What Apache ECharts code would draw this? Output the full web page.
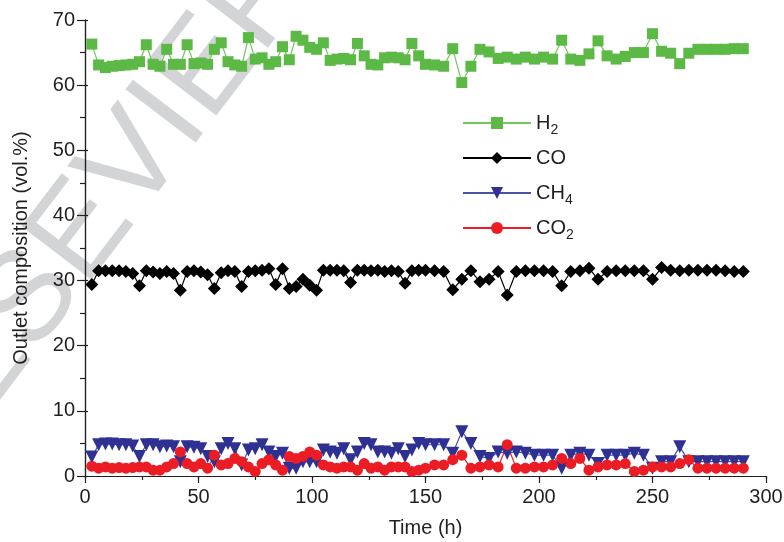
<!DOCTYPE html>
<html>
<head>
<meta charset="utf-8">
<script src="https://cdn.jsdelivr.net/npm/echarts@6/dist/echarts.min.js"></script>
<style>
  html, body { margin: 0; padding: 0; background: #fff; }
  #chart { width: 784px; height: 542px; }
</style>
</head>
<body>
<div id="chart"></div>
<script>
var chartDom = document.getElementById('chart');
var myChart = echarts.init(chartDom);

// sampling times (h)
var times = [3,6,9,12,15,18,21,24,27,30,33,36,39,42,45,48,51,54,57,60,
  63,66,69,72,75,78,81,84,87,90,93,96,99,102,105,108,111,114,117,120,
  123,126,129,132,135,138,141,144,147,150,154,158,162,166,170,174,178,182,186,190,
  194,198,202,206,210,214,218,222,226,230,234,238,242,246,250,254,258,262,266,270,
  274,278,282,286,290];

var h2 = [66.3,63.1,62.7,62.9,63.0,63.1,63.2,63.6,66.2,63.2,62.9,65.5,63.2,63.2,66.2,63.3,63.4,63.2,65.5,66.5,
  63.6,63.1,62.9,67.3,64.0,64.2,63.2,63.6,65.9,63.9,67.5,66.9,65.8,65.5,66.5,63.8,64.0,64.1,63.9,66.4,
  64.5,63.2,63.1,64.2,64.3,64.2,63.9,66.4,64.5,63.2,63.1,62.9,65.6,60.4,62.9,65.5,65.1,64.1,64.3,64.0,
  64.3,64.0,64.3,64.0,66.9,64.0,63.8,64.8,66.8,64.5,64.0,64.4,65.0,65.0,67.9,65.2,64.9,63.3,64.9,65.5,
  65.5,65.5,65.5,65.6,65.6];

var co = [29.4,31.5,31.5,31.5,31.5,31.4,31.1,29.2,31.5,31.3,31.1,31.4,31.1,28.5,31.4,31.5,31.3,30.9,28.8,31.2,
  31.5,31.4,29.1,31.4,31.5,31.6,31.8,29.4,31.8,28.8,29.1,30.2,29.3,28.5,31.6,31.6,31.6,31.5,29.7,31.6,
  31.6,31.5,31.6,31.4,31.5,31.4,29.6,31.5,31.6,31.6,31.5,31.4,28.6,30.2,31.5,29.8,30.2,31.4,27.8,31.4,
  31.5,31.5,31.5,31.4,29.2,31.4,31.5,31.9,30.2,31.4,31.5,31.5,31.5,31.5,30.2,32.0,31.6,31.5,31.6,31.6,
  31.6,31.6,31.5,31.4,31.4];

var ch4 = [2.9,4.8,4.9,4.9,4.8,4.8,4.6,3.0,4.8,4.8,4.5,4.6,4.5,2.2,4.5,4.4,4.2,3.0,2.2,4.2,
  5.0,4.2,1.7,4.0,4.2,4.8,3.7,3.0,3.5,1.2,1.2,2.2,2.2,2.2,4.0,3.7,3.5,4.2,2.5,3.7,
  5.0,4.8,3.7,3.7,3.5,4.2,3.0,4.0,5.0,4.8,4.8,4.8,3.5,6.8,5.0,3.0,2.7,3.7,3.5,3.7,
  3.5,3.2,3.2,3.2,1.2,3.2,3.5,3.2,1.9,3.2,3.2,3.2,3.5,3.2,1.2,2.2,2.2,4.5,2.2,2.2,
  2.2,2.2,2.2,2.2,2.2];

var co2 = [1.5,1.2,1.4,1.2,1.3,1.2,1.3,1.4,1.4,0.9,0.9,1.4,1.9,3.7,1.9,1.4,1.9,1.2,3.2,1.7,
  1.9,2.7,2.2,1.4,0.7,1.9,2.5,1.7,0.9,3.0,2.7,3.0,3.7,3.2,1.7,1.4,1.2,1.4,1.4,0.9,
  1.9,1.2,1.4,0.9,1.4,1.4,1.4,0.7,0.9,1.2,1.7,1.7,2.5,3.2,1.2,1.4,1.7,1.4,4.8,1.2,
  1.2,1.4,1.4,1.7,2.7,1.9,2.7,0.9,1.4,1.7,1.7,1.9,0.7,0.9,1.4,1.4,1.4,1.9,2.5,1.2,
  1.2,1.2,1.2,1.2,1.2];

var names = ['H2', 'CO', 'CH4', 'CO2'];
var labels = { 'H2': '{n|H}{s|2}', 'CO': '{n|CO}', 'CH4': '{n|CH}{s|4}', 'CO2': '{n|CO}{s|2}' };

function pairs(vals) {
  return times.map(function (t, i) { return [t, vals[i]]; });
}

var font = 'Liberation Sans, Arial, sans-serif';
var ink = '#231f20';

var richText = {
  n: { fontSize: 20, color: ink, fontFamily: font, lineHeight: 28, verticalAlign: 'middle' },
  s: { fontSize: 14, color: ink, fontFamily: font, lineHeight: 28, verticalAlign: 'bottom' }
};

var legendTops = [113, 148, 183, 218];
var legends = names.map(function (nm, i) {
  return {
    data: [nm],
    left: 462,
    top: legendTops[i],
    padding: 0,
    itemWidth: 68,
    itemHeight: 15,
    selectedMode: false,
    formatter: function (name) { return labels[name]; },
    textStyle: { rich: richText }
  };
});

var option = {
  animation: false,
  backgroundColor: '#fff',
  graphic: [{
    type: 'text',
    z: -10,
    silent: true,
    x: 100,
    y: 210,
    rotation: 0.92,
    style: {
      text: 'ELSEVIER',
      fontSize: 128,
      fontFamily: font,
      fill: '#d3d4d6',
      align: 'center',
      verticalAlign: 'middle'
    }
  }],
  grid: { left: 85, right: 18, top: 20, bottom: 66, outerBoundsMode: 'none', containLabel: false },
  legend: legends,
  xAxis: [{
    type: 'value',
    min: 0, max: 300, interval: 50,
    name: 'Time (h)',
    nameLocation: 'middle',
    nameGap: 42,
    nameTextStyle: { fontSize: 20, color: ink, fontFamily: font },
    axisLine: { show: true, lineStyle: { color: ink, width: 1.2 } },
    axisTick: { show: true, inside: false, length: 7, lineStyle: { color: ink, width: 1.2 } },
    minorTick: { show: true, splitNumber: 2, length: 4, lineStyle: { color: ink, width: 1.2 } },
    axisLabel: { fontSize: 20, color: ink, fontFamily: font, margin: 11 },
    splitLine: { show: false }
  }, {
    type: 'value',
    position: 'top',
    min: 0, max: 300, interval: 50,
    axisLine: { show: true, lineStyle: { color: ink, width: 1.2 } },
    axisTick: { show: true, inside: true, length: 3, lineStyle: { color: ink, width: 1.2 } },
    minorTick: { show: false },
    axisLabel: { show: false },
    splitLine: { show: false }
  }],
  yAxis: [{
    type: 'value',
    min: 0, max: 70, interval: 10,
    name: 'Outlet composition (vol.%)',
    nameLocation: 'middle',
    nameGap: 54,
    nameTextStyle: { fontSize: 20, color: ink, fontFamily: font },
    axisLine: { show: true, lineStyle: { color: ink, width: 1.2 } },
    axisTick: { show: true, inside: false, length: 8, lineStyle: { color: ink, width: 1.2 } },
    minorTick: { show: true, splitNumber: 2, length: 5, lineStyle: { color: ink, width: 1.2 } },
    axisLabel: { fontSize: 20, color: ink, fontFamily: font, margin: 10 },
    splitLine: { show: false }
  }, {
    type: 'value',
    position: 'right',
    min: 0, max: 70, interval: 10,
    axisLine: { show: true, lineStyle: { color: ink, width: 1.2 } },
    axisTick: { show: true, inside: false, length: 3, lineStyle: { color: ink, width: 1.2 } },
    minorTick: { show: false },
    axisLabel: { show: false },
    splitLine: { show: false }
  }],
  series: [{
    name: 'H2',
    type: 'line',
    data: pairs(h2),
    symbol: 'rect',
    symbolSize: 11,
    itemStyle: { color: '#5cb946' },
    lineStyle: { color: '#72c65e', width: 1.2 }
  }, {
    name: 'CO',
    type: 'line',
    data: pairs(co),
    symbol: 'diamond',
    symbolSize: 13,
    itemStyle: { color: '#000000' },
    lineStyle: { color: '#000000', width: 1.2 }
  }, {
    name: 'CH4',
    type: 'line',
    data: pairs(ch4),
    symbol: 'triangle',
    symbolRotate: 180,
    symbolSize: 13,
    itemStyle: { color: '#2e3192' },
    lineStyle: { color: '#4a52a8', width: 1.2 }
  }, {
    name: 'CO2',
    type: 'line',
    data: pairs(co2),
    symbol: 'circle',
    symbolSize: 11,
    itemStyle: { color: '#ec1c24' },
    lineStyle: { color: '#ec1c24', width: 1.2 }
  }]
};

option && myChart.setOption(option);
</script>
</body>
</html>
